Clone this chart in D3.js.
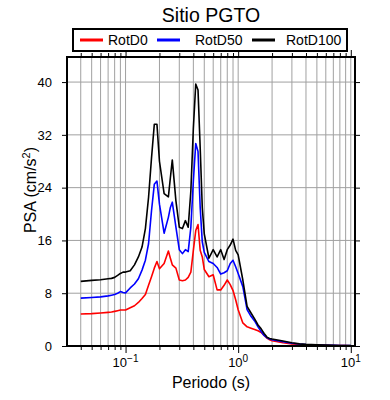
<!DOCTYPE html>
<html>
<head>
<meta charset="utf-8">
<script src="https://cdn.jsdelivr.net/npm/d3@7"></script>
<style>
  body { margin: 0; background: #fff; }
  text { font-family: "Liberation Sans", Arial, sans-serif; fill: #000; }
</style>
</head>
<body>
<svg id="chart" width="390" height="400"></svg>
<script>
const svg = d3.select('#chart')

// periods (s)
const periods = [0.04, 0.05, 0.06, 0.07, 0.075, 0.08, 0.085, 0.09, 0.095, 0.1,
  0.11, 0.12, 0.13, 0.14, 0.15, 0.16, 0.17, 0.18, 0.19, 0.2,
  0.22, 0.24, 0.25, 0.26, 0.28, 0.3, 0.32, 0.34, 0.36, 0.38,
  0.4, 0.42, 0.44, 0.46, 0.48, 0.5, 0.55, 0.6, 0.65, 0.7,
  0.75, 0.8, 0.85, 0.9, 0.95, 1.0, 1.1, 1.2, 1.3, 1.4,
  1.5, 1.6, 1.7, 1.8, 1.9, 2.0, 2.5, 3.0, 3.5, 4.0,
  5.0, 6.0, 7.0, 8.0, 9.0, 10.0]

const rotD0 = [4.85, 4.9, 5.0, 5.1, 5.15, 5.25, 5.35, 5.45, 5.45, 5.45,
  5.8, 6.1, 6.6, 7.2, 7.8, 9.2, 10.5, 11.8, 12.8, 11.7,
  12.5, 14.4, 13.3, 12.3, 11.8, 10.0, 9.9, 10.0, 10.4, 11.2,
  14.5, 17.5, 18.4, 14.5, 13.5, 11.6, 10.5, 10.8, 8.5, 8.5,
  9.2, 10.0, 9.3, 8.4, 7.0, 5.5, 3.5, 2.9, 2.7, 2.5,
  2.3, 2.05, 1.6, 1.2, 0.95, 0.8, 0.5, 0.3, 0.22, 0.18,
  0.12, 0.09, 0.07, 0.06, 0.05, 0.04]

const rotD50 = [7.25, 7.35, 7.45, 7.6, 7.7, 7.8, 8.0, 8.25, 8.1, 8.05,
  8.8, 9.4, 10.2, 11.5, 13.0, 15.5, 20.5, 24.5, 25.0, 21.5,
  17.1, 19.5, 21.0, 21.8, 18.0, 14.6, 14.0, 14.6, 14.3, 18.0,
  25.0, 30.7, 29.5, 21.0, 15.8, 14.2, 12.8, 12.5, 11.9, 10.9,
  11.1, 11.4, 12.5, 13.0, 12.0, 11.0, 9.0, 5.5, 4.5, 3.8,
  2.9, 2.2, 1.6, 1.25, 1.05, 0.95, 0.65, 0.42, 0.3, 0.22,
  0.15, 0.11, 0.09, 0.07, 0.06, 0.05]

const rotD100 = [9.8, 9.95, 10.05, 10.2, 10.25, 10.4, 10.7, 11.0, 11.2, 11.2,
  11.4, 12.3, 13.5, 15.0, 17.8, 22.5, 28.5, 33.6, 33.6, 28.0,
  23.1, 22.6, 25.5, 28.2, 22.0, 18.0, 17.8, 19.0, 18.0, 23.5,
  33.0, 39.7, 38.8, 30.0, 21.0, 17.0, 13.3, 14.6, 13.5, 14.6,
  13.1, 14.6, 15.3, 16.2, 14.5, 13.8, 10.0, 6.0, 5.0, 4.1,
  3.2, 2.6, 1.9, 1.35, 1.15, 1.05, 0.75, 0.5, 0.32, 0.25,
  0.18, 0.13, 0.1, 0.08, 0.07, 0.06]

const seriesNames = ['RotD0', 'RotD50', 'RotD100']
const seriesValues = [rotD0, rotD50, rotD100]
const seriesColors = ['#ff0000', '#0000ff', '#000000']

const yTickValues = [0, 8, 16, 24, 32, 40]
const xDecades = [0.1, 1, 10]
const xDecadeExp = ['\u22121', '0', '1']

const pLeft = 67, pRight = 355, pTop = 57, pBottom = 346

const xScale = d3.scaleLog()
  .domain([0.0302, 10.9])
  .range([pLeft, pRight])

const yScale = d3.scaleLinear()
  .domain([0, 43.8])
  .range([pBottom, pTop])

// all log ticks inside the domain
const xMinor = []
for (let e = -2; e <= 1; e++) {
  for (let m = 1; m <= 9; m++) {
    const v = m * Math.pow(10, e)
    if (v >= 0.0302 && v <= 10.9) xMinor.push(v)
  }
}

const gridColor = '#a0a0a0'

// grid
svg.append('g')
  .selectAll('line')
  .data(xMinor)
  .enter()
  .append('line')
    .attr('x1', d => xScale(d))
    .attr('x2', d => xScale(d))
    .attr('y1', pTop)
    .attr('y2', pBottom)
    .style('stroke', gridColor)
    .style('stroke-width', 1)

svg.append('g')
  .selectAll('line')
  .data(yTickValues.filter(d => d > 0))
  .enter()
  .append('line')
    .attr('x1', pLeft)
    .attr('x2', pRight)
    .attr('y1', d => yScale(d))
    .attr('y2', d => yScale(d))
    .style('stroke', gridColor)
    .style('stroke-width', 1)

// curves
const line = d3.line()
  .x((d, i) => xScale(periods[i]))
  .y(d => yScale(d))

svg.append('g')
  .selectAll('path')
  .data(seriesValues)
  .enter()
  .append('path')
    .attr('d', d => line(d))
    .attr('fill', 'none')
    .style('stroke', (d, i) => seriesColors[i])
    .style('stroke-width', 1.6)
    .style('stroke-linejoin', 'round')

// axes ticks (outward)
const isDecade = v => xDecades.some(d => Math.abs(d - v) < 1e-9)

const xAxisBottom = d3.axisBottom(xScale)
  .tickValues(xMinor)
  .tickSize(4)
  .tickFormat('')
const xAxisTop = d3.axisTop(xScale)
  .tickValues(xMinor)
  .tickSize(4)
  .tickFormat('')

const gBottom = svg.append('g')
  .attr('transform', `translate(0, ${pBottom})`)
  .call(xAxisBottom)
const gTop = svg.append('g')
  .attr('transform', `translate(0, ${pTop})`)
  .call(xAxisTop)

gBottom.selectAll('.tick line').attr('y2', d => isDecade(d) ? 7 : 4)
gTop.selectAll('.tick line').attr('y2', d => isDecade(d) ? -7 : -4)

const yAxisLeft = d3.axisLeft(yScale)
  .tickValues(yTickValues)
  .tickSize(5)
  .tickPadding(10)
  .tickFormat(d => d)
const yAxisRight = d3.axisRight(yScale)
  .tickValues(yTickValues)
  .tickSize(5)
  .tickFormat('')

const gLeft = svg.append('g')
  .attr('transform', `translate(${pLeft}, 0)`)
  .call(yAxisLeft)
svg.append('g')
  .attr('transform', `translate(${pRight}, 0)`)
  .call(yAxisRight)

gLeft.selectAll('.tick text')
  .style('font-size', '13px')
  .style('font-family', '"Liberation Sans", Arial, sans-serif')

svg.selectAll('path.domain').remove()
svg.selectAll('.tick line').style('stroke', '#000').style('stroke-width', 1)

// frame
svg.append('rect')
  .attr('x', pLeft)
  .attr('y', pTop)
  .attr('width', pRight - pLeft)
  .attr('height', pBottom - pTop)
  .attr('fill', 'none')
  .style('stroke', '#000')
  .style('stroke-width', 2)

// x decade labels
const xLabels = svg.append('g')
  .selectAll('text')
  .data(xDecades)
  .enter()
  .append('text')
    .attr('x', d => xScale(d))
    .attr('y', 367)
    .attr('text-anchor', 'middle')
    .style('font-size', '13px')

xLabels.append('tspan').text('10')
xLabels.append('tspan')
  .attr('dy', -5)
  .style('font-size', '10px')
  .text((d, i) => xDecadeExp[i])

// axis titles
svg.append('text')
  .attr('x', 211)
  .attr('y', 388)
  .attr('text-anchor', 'middle')
  .style('font-size', '16px')
  .text('Periodo (s)')

const yTitle = svg.append('text')
  .attr('transform', 'translate(36, 190) rotate(-90)')
  .attr('text-anchor', 'middle')
  .style('font-size', '16px')
yTitle.append('tspan').text('PSA (cm/s')
yTitle.append('tspan').attr('dy', -6).style('font-size', '11px').text('2')
yTitle.append('tspan').attr('dy', 6).text(')')

// title
svg.append('text')
  .attr('x', 211)
  .attr('y', 22)
  .attr('text-anchor', 'middle')
  .style('font-size', '19.5px')
  .text('Sitio PGTO')

// legend
svg.append('rect')
  .attr('x', 73)
  .attr('y', 29)
  .attr('width', 274)
  .attr('height', 22)
  .attr('fill', '#fff')
  .style('stroke', '#000')
  .style('stroke-width', 2)

const legendLineX = [80, 157, 252]
const legendTextX = [108, 195, 286]

const legend = svg.append('g')
  .selectAll('g')
  .data(seriesNames)
  .enter()
  .append('g')

legend.append('line')
  .attr('x1', (d, i) => legendLineX[i])
  .attr('x2', (d, i) => legendLineX[i] + 23)
  .attr('y1', 40)
  .attr('y2', 40)
  .style('stroke', (d, i) => seriesColors[i])
  .style('stroke-width', 3)

legend.append('text')
  .attr('x', (d, i) => legendTextX[i])
  .attr('y', 45)
  .style('font-size', '14px')
  .text(d => d)
</script>
</body>
</html>
